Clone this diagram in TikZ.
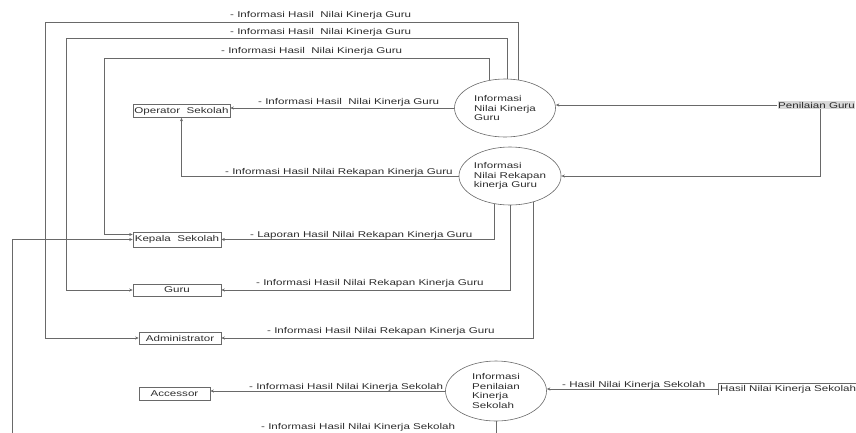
\documentclass[tikz,border=0pt]{standalone}
\usepackage{fontspec}
\setmainfont{Liberation Sans}[FakeStretch=1.38]
\usepackage{xcolor}
\usepackage{tikz}
\usetikzlibrary{arrows.meta}
\usetikzlibrary{shapes.geometric}
\definecolor{linegray}{RGB}{105,105,105}
\definecolor{txtgray}{RGB}{45,45,45}
\tikzset{
  ent/.style={draw=linegray, line width=0.6pt, rectangle, inner sep=1pt, minimum height=13pt},
  proc/.style={draw=linegray, line width=0.6pt, ellipse, inner sep=0pt, minimum width=101pt, minimum height=58pt, align=left},
  flow/.style={draw=linegray, line width=0.6pt, -{Stealth[length=3.5pt,width=3pt]}},
  lbl/.style={anchor=west, inner sep=0pt}
}
\begin{document}
\begin{tikzpicture}[x=1pt, y=-1pt, font=\fontsize{8.4pt}{9.5pt}\selectfont, text=txtgray]
            \useasboundingbox (0,0) rectangle (856,432);

            % Entitas
            \node[ent, minimum width=97pt] (ops) at (181.5,111) {Operator\ \ Sekolah};
            \node[ent, minimum width=88pt, minimum height=15pt] (kepala) at (177,239.5) {Kepala\ \ Sekolah};
            \node[ent, minimum width=88pt, minimum height=12pt] (guru) at (177,290) {Guru};
            \node[ent, minimum width=82pt, minimum height=12pt] (admin) at (180,338) {Administrator};
            \node[ent, minimum width=71pt] (acc) at (174.5,393.5) {Accessor};

            % Proses
            \node[proc] (p1) at (505,108) {Informasi\\Nilai Kinerja\\Guru};
            \node[proc] (p2) at (510,176) {Informasi\\Nilai Rekapan\\kinerja Guru};
            \node[proc, minimum height=60pt] (p3) at (496,391) {Informasi\\Penilaian\\Kinerja\\Sekolah};

            % Data store
            \node[anchor=east, fill=gray!30, inner sep=0.5pt] (pg) at (855.5,105) {Penilaian Guru};
            \node[anchor=west, inner sep=2pt] (hnks) at (718,389) {Hasil Nilai Kinerja Sekolah};
            \draw[linegray, line width=0.6pt] (hnks.south west) -- (hnks.north west) -- (hnks.north west -| 860,0);

            % Alur dari Informasi Nilai Kinerja Guru
            \draw[flow] (p1.65) |- (45,22) |- (admin.west);
            \draw[flow] (p1.86) |- (66,38) |- (guru.west);
            \draw[flow] (p1.120) |- (104,58) |- ([yshift=5pt]kepala.west);
            \draw[flow] (p1.west) -- (p1.west -| ops.east);

            % Alur dari Informasi Nilai Rekapan Kinerja Guru
            \draw[flow] (p2.west) -| (ops.south);
            \draw[flow] (p2.240) |- (kepala.east);
            \draw[flow] (p2.south) |- (guru.east);
            \draw[flow] (p2.312) |- (admin.east);

            % Alur dari Penilaian Guru
            \draw[flow] (pg.west) -- (p1.east |- pg.west);
            \draw[flow] (pg.south west) ++(43,0) |- (p2.east);

            % Alur Informasi Penilaian Kinerja Sekolah
            \draw[flow] (p3.west) -- (p3.west -| acc.east);
            \draw[flow] (p3.south) |- (12,437) |- (kepala.west);
            \draw[flow] (hnks.west) -- (hnks.west -| p3.east);

            % Label alur
            \node[lbl] (t1) at (230,15) {- Informasi Hasil\ \ Nilai Kinerja Guru};
            \node[lbl] (t2) at (230,32) {- Informasi Hasil\ \ Nilai Kinerja Guru};
            \node[lbl] (t3) at (221,51) {- Informasi Hasil\ \ Nilai Kinerja Guru};
            \node[lbl] (t4) at (258,102) {- Informasi Hasil\ \ Nilai Kinerja Guru};
            \node[lbl] (t5) at (225,172) {- Informasi Hasil Nilai Rekapan Kinerja Guru};
            \node[lbl] (t6) at (250,235) {- Laporan Hasil Nilai Rekapan Kinerja Guru};
            \node[lbl] (t7) at (256,283) {- Informasi Hasil Nilai Rekapan Kinerja Guru};
            \node[lbl] (t8) at (267,331) {- Informasi Hasil Nilai Rekapan Kinerja Guru};
            \node[lbl] (t9) at (249,387) {- Informasi Hasil Nilai Kinerja Sekolah};
            \node[lbl] (t10) at (261,427) {- Informasi Hasil Nilai Kinerja Sekolah};
            \node[lbl] (t11) at (562,385) {- Hasil Nilai Kinerja Sekolah};
        \end{tikzpicture}
\end{document}
